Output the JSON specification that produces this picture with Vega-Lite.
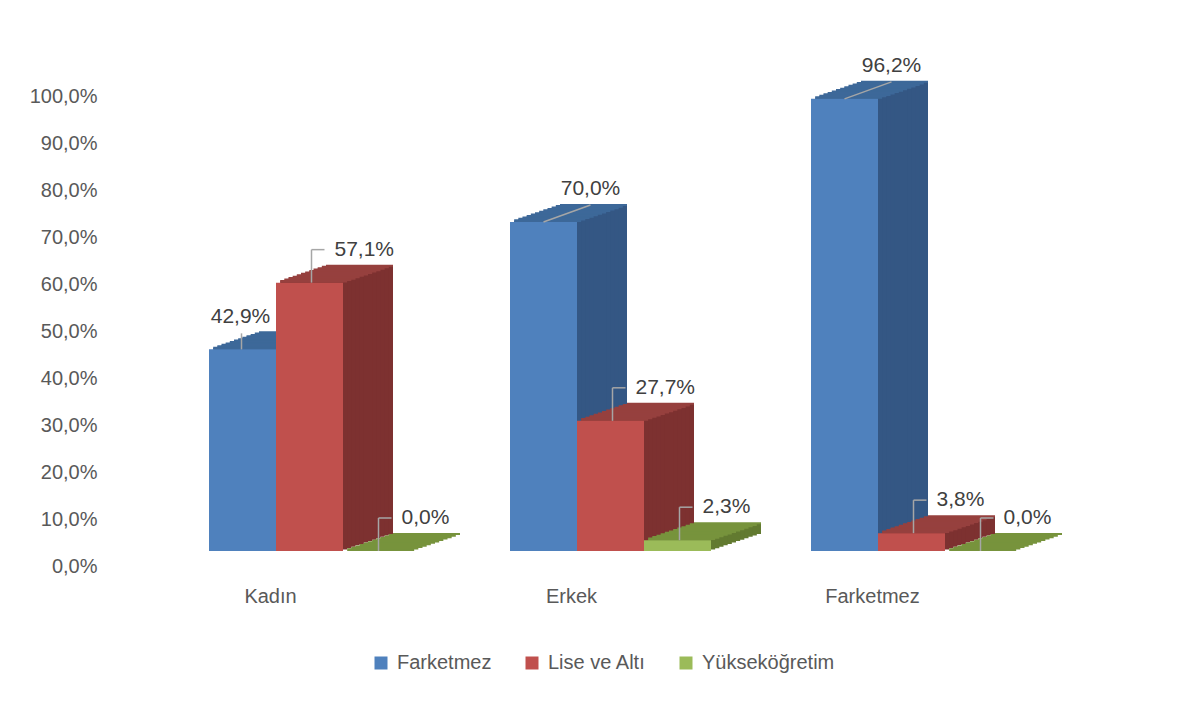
{
  "$schema": "https://vega.github.io/schema/vega-lite/v6.json",
  "autosize": {"type": "pad"},
  "padding": {"left": 29, "top": 54, "right": 5, "bottom": 5},
  "background": "#ffffff",
  "config": {
    "locale": {"number": {"decimal": ",", "thousands": ".", "grouping": [3], "currency": ["", " TL"]}},
    "view": {"stroke": null},
    "font": "Liberation Sans",
    "text": {"font": "Liberation Sans"},
    "tick": {"opacity": 1}
  },
  "data": {
    "values": [
      {"group": "Kadın", "series": "Farketmez", "value": 0.429},
      {"group": "Kadın", "series": "Lise ve Altı", "value": 0.571},
      {"group": "Kadın", "series": "Yükseköğretim", "value": 0.0},
      {"group": "Erkek", "series": "Farketmez", "value": 0.700},
      {"group": "Erkek", "series": "Lise ve Altı", "value": 0.277},
      {"group": "Erkek", "series": "Yükseköğretim", "value": 0.023},
      {"group": "Farketmez", "series": "Farketmez", "value": 0.962},
      {"group": "Farketmez", "series": "Lise ve Altı", "value": 0.038},
      {"group": "Farketmez", "series": "Yükseköğretim", "value": 0.0}
    ]
  },
  "facet": {"column": {"field": "group", "type": "nominal", "sort": ["Kadın", "Erkek", "Farketmez"], "header": null}},
  "spacing": 50,
  "spec": {
    "width": 201,
    "height": 470,
    "encoding": {
      "x": {"field": "series", "type": "nominal", "sort": ["Farketmez", "Lise ve Altı", "Yükseköğretim"], "axis": null, "scale": {"paddingInner": 0, "paddingOuter": 0}},
      "y": {"field": "value", "type": "quantitative", "scale": {"domain": [0, 1], "nice": false},
        "axis": {"values": [0, 0.1, 0.2, 0.3, 0.4, 0.5, 0.6, 0.7, 0.8, 0.9, 1], "format": ".1%", "title": null, "domain": false, "ticks": false, "tickSize": 0, "grid": false, "labelPadding": 112, "labelOffset": 15, "labelFontSize": 20, "labelColor": "#595959", "labelFont": "Liberation Sans"}}
    },
    "layer": [
      {"mark": {"type": "bar", "xOffset": 50, "x2Offset": 50, "yOffset": -17, "y2Offset": -17}, "encoding": {"color": {"condition": [{"test": "datum.series === 'Farketmez'", "value": "#345784"}, {"test": "datum.series === 'Lise ve Altı'", "value": "#7D3130"}], "value": "#627A30"}}},
      {"mark": {"type": "bar", "xOffset": 45.83, "x2Offset": 45.83, "yOffset": -15.58, "y2Offset": -15.58}, "encoding": {"color": {"condition": [{"test": "datum.series === 'Farketmez'", "value": "#345784"}, {"test": "datum.series === 'Lise ve Altı'", "value": "#7D3130"}], "value": "#627A30"}}},
      {"mark": {"type": "bar", "xOffset": 41.67, "x2Offset": 41.67, "yOffset": -14.17, "y2Offset": -14.17}, "encoding": {"color": {"condition": [{"test": "datum.series === 'Farketmez'", "value": "#345784"}, {"test": "datum.series === 'Lise ve Altı'", "value": "#7D3130"}], "value": "#627A30"}}},
      {"mark": {"type": "bar", "xOffset": 37.5, "x2Offset": 37.5, "yOffset": -12.75, "y2Offset": -12.75}, "encoding": {"color": {"condition": [{"test": "datum.series === 'Farketmez'", "value": "#345784"}, {"test": "datum.series === 'Lise ve Altı'", "value": "#7D3130"}], "value": "#627A30"}}},
      {"mark": {"type": "bar", "xOffset": 33.33, "x2Offset": 33.33, "yOffset": -11.33, "y2Offset": -11.33}, "encoding": {"color": {"condition": [{"test": "datum.series === 'Farketmez'", "value": "#345784"}, {"test": "datum.series === 'Lise ve Altı'", "value": "#7D3130"}], "value": "#627A30"}}},
      {"mark": {"type": "bar", "xOffset": 29.17, "x2Offset": 29.17, "yOffset": -9.92, "y2Offset": -9.92}, "encoding": {"color": {"condition": [{"test": "datum.series === 'Farketmez'", "value": "#345784"}, {"test": "datum.series === 'Lise ve Altı'", "value": "#7D3130"}], "value": "#627A30"}}},
      {"mark": {"type": "bar", "xOffset": 25, "x2Offset": 25, "yOffset": -8.5, "y2Offset": -8.5}, "encoding": {"color": {"condition": [{"test": "datum.series === 'Farketmez'", "value": "#345784"}, {"test": "datum.series === 'Lise ve Altı'", "value": "#7D3130"}], "value": "#627A30"}}},
      {"mark": {"type": "bar", "xOffset": 20.83, "x2Offset": 20.83, "yOffset": -7.08, "y2Offset": -7.08}, "encoding": {"color": {"condition": [{"test": "datum.series === 'Farketmez'", "value": "#345784"}, {"test": "datum.series === 'Lise ve Altı'", "value": "#7D3130"}], "value": "#627A30"}}},
      {"mark": {"type": "bar", "xOffset": 16.67, "x2Offset": 16.67, "yOffset": -5.67, "y2Offset": -5.67}, "encoding": {"color": {"condition": [{"test": "datum.series === 'Farketmez'", "value": "#345784"}, {"test": "datum.series === 'Lise ve Altı'", "value": "#7D3130"}], "value": "#627A30"}}},
      {"mark": {"type": "bar", "xOffset": 12.5, "x2Offset": 12.5, "yOffset": -4.25, "y2Offset": -4.25}, "encoding": {"color": {"condition": [{"test": "datum.series === 'Farketmez'", "value": "#345784"}, {"test": "datum.series === 'Lise ve Altı'", "value": "#7D3130"}], "value": "#627A30"}}},
      {"mark": {"type": "bar", "xOffset": 8.33, "x2Offset": 8.33, "yOffset": -2.83, "y2Offset": -2.83}, "encoding": {"color": {"condition": [{"test": "datum.series === 'Farketmez'", "value": "#345784"}, {"test": "datum.series === 'Lise ve Altı'", "value": "#7D3130"}], "value": "#627A30"}}},
      {"mark": {"type": "bar", "xOffset": 4.17, "x2Offset": 4.17, "yOffset": -1.42, "y2Offset": -1.42}, "encoding": {"color": {"condition": [{"test": "datum.series === 'Farketmez'", "value": "#345784"}, {"test": "datum.series === 'Lise ve Altı'", "value": "#7D3130"}], "value": "#627A30"}}},
      {"mark": {"type": "tick", "opacity": 1, "size": 67, "thickness": 2.6, "xOffset": 4.17, "yOffset": -1.42}, "encoding": {"color": {"condition": [{"test": "datum.series === 'Farketmez'", "value": "#3D6899"}, {"test": "datum.series === 'Lise ve Altı'", "value": "#96403E"}], "value": "#77933C"}}},
      {"mark": {"type": "tick", "opacity": 1, "size": 67, "thickness": 2.6, "xOffset": 8.33, "yOffset": -2.83}, "encoding": {"color": {"condition": [{"test": "datum.series === 'Farketmez'", "value": "#3D6899"}, {"test": "datum.series === 'Lise ve Altı'", "value": "#96403E"}], "value": "#77933C"}}},
      {"mark": {"type": "tick", "opacity": 1, "size": 67, "thickness": 2.6, "xOffset": 12.5, "yOffset": -4.25}, "encoding": {"color": {"condition": [{"test": "datum.series === 'Farketmez'", "value": "#3D6899"}, {"test": "datum.series === 'Lise ve Altı'", "value": "#96403E"}], "value": "#77933C"}}},
      {"mark": {"type": "tick", "opacity": 1, "size": 67, "thickness": 2.6, "xOffset": 16.67, "yOffset": -5.67}, "encoding": {"color": {"condition": [{"test": "datum.series === 'Farketmez'", "value": "#3D6899"}, {"test": "datum.series === 'Lise ve Altı'", "value": "#96403E"}], "value": "#77933C"}}},
      {"mark": {"type": "tick", "opacity": 1, "size": 67, "thickness": 2.6, "xOffset": 20.83, "yOffset": -7.08}, "encoding": {"color": {"condition": [{"test": "datum.series === 'Farketmez'", "value": "#3D6899"}, {"test": "datum.series === 'Lise ve Altı'", "value": "#96403E"}], "value": "#77933C"}}},
      {"mark": {"type": "tick", "opacity": 1, "size": 67, "thickness": 2.6, "xOffset": 25, "yOffset": -8.5}, "encoding": {"color": {"condition": [{"test": "datum.series === 'Farketmez'", "value": "#3D6899"}, {"test": "datum.series === 'Lise ve Altı'", "value": "#96403E"}], "value": "#77933C"}}},
      {"mark": {"type": "tick", "opacity": 1, "size": 67, "thickness": 2.6, "xOffset": 29.17, "yOffset": -9.92}, "encoding": {"color": {"condition": [{"test": "datum.series === 'Farketmez'", "value": "#3D6899"}, {"test": "datum.series === 'Lise ve Altı'", "value": "#96403E"}], "value": "#77933C"}}},
      {"mark": {"type": "tick", "opacity": 1, "size": 67, "thickness": 2.6, "xOffset": 33.33, "yOffset": -11.33}, "encoding": {"color": {"condition": [{"test": "datum.series === 'Farketmez'", "value": "#3D6899"}, {"test": "datum.series === 'Lise ve Altı'", "value": "#96403E"}], "value": "#77933C"}}},
      {"mark": {"type": "tick", "opacity": 1, "size": 67, "thickness": 2.6, "xOffset": 37.5, "yOffset": -12.75}, "encoding": {"color": {"condition": [{"test": "datum.series === 'Farketmez'", "value": "#3D6899"}, {"test": "datum.series === 'Lise ve Altı'", "value": "#96403E"}], "value": "#77933C"}}},
      {"mark": {"type": "tick", "opacity": 1, "size": 67, "thickness": 2.6, "xOffset": 41.67, "yOffset": -14.17}, "encoding": {"color": {"condition": [{"test": "datum.series === 'Farketmez'", "value": "#3D6899"}, {"test": "datum.series === 'Lise ve Altı'", "value": "#96403E"}], "value": "#77933C"}}},
      {"mark": {"type": "tick", "opacity": 1, "size": 67, "thickness": 2.6, "xOffset": 45.83, "yOffset": -15.58}, "encoding": {"color": {"condition": [{"test": "datum.series === 'Farketmez'", "value": "#3D6899"}, {"test": "datum.series === 'Lise ve Altı'", "value": "#96403E"}], "value": "#77933C"}}},
      {"mark": {"type": "tick", "opacity": 1, "size": 67, "thickness": 2, "xOffset": 50, "yOffset": -17}, "encoding": {"color": {"condition": [{"test": "datum.series === 'Farketmez'", "value": "#3D6899"}, {"test": "datum.series === 'Lise ve Altı'", "value": "#96403E"}], "value": "#77933C"}}},
      {"mark": {"type": "bar"}, "encoding": {"color": {"field": "series", "type": "nominal", "sort": ["Farketmez", "Lise ve Altı", "Yükseköğretim"], "scale": {"domain": ["Farketmez", "Lise ve Altı", "Yükseköğretim"], "range": ["#4F81BD", "#C0504D", "#9BBB59"]},
        "legend": {"orient": "none", "legendX": 162, "legendY": 572, "direction": "horizontal", "title": null, "symbolType": "square", "symbolSize": 169, "symbolStrokeWidth": 0, "symbolOpacity": 1, "labelFontSize": 20, "labelColor": "#595959", "labelFont": "Liberation Sans", "columnPadding": 30, "labelOffset": 6}}}},
      {"transform": [{"filter": "datum.series !== 'Farketmez'"}],
        "mark": {"type": "rule", "color": "#A6A6A6", "strokeWidth": 1.5, "xOffset": 2, "yOffset": 0, "y2Offset": -33},
        "encoding": {"y2": {"field": "value"}}},
      {"transform": [{"filter": "datum.series !== 'Farketmez'"}],
        "mark": {"type": "tick", "opacity": 1, "color": "#A6A6A6", "size": 13, "thickness": 1.5, "xOffset": 8.5, "yOffset": -33}},
      {"transform": [{"filter": "datum.series !== 'Farketmez'"}],
        "mark": {"type": "text", "align": "left", "baseline": "middle", "xOffset": 25, "yOffset": -33, "fontSize": 21, "color": "#404040", "font": "Liberation Sans"},
        "encoding": {"text": {"field": "value", "type": "quantitative", "format": ".1%"}}},
      {"transform": [{"filter": "datum.series === 'Farketmez' && datum.group !== 'Kadın'"}],
        "mark": {"type": "rule", "color": "#A6A6A6", "strokeWidth": 1.5, "xOffset": 0, "x2Offset": 47, "yOffset": 0, "y2Offset": -17},
        "encoding": {"x2": {"field": "series"}, "y2": {"field": "value"}}},
      {"transform": [{"filter": "datum.series === 'Farketmez' && datum.group !== 'Kadın'"}],
        "mark": {"type": "text", "align": "center", "baseline": "middle", "xOffset": 47, "yOffset": -33, "fontSize": 21, "color": "#404040", "font": "Liberation Sans"},
        "encoding": {"text": {"field": "value", "type": "quantitative", "format": ".1%"}}},
      {"transform": [{"filter": "datum.series === 'Farketmez' && datum.group === 'Kadın'"}],
        "mark": {"type": "rule", "color": "#A6A6A6", "strokeWidth": 1.5, "xOffset": -1, "yOffset": 0, "y2Offset": -16},
        "encoding": {"y2": {"field": "value"}}},
      {"transform": [{"filter": "datum.series === 'Farketmez' && datum.group === 'Kadın'"}],
        "mark": {"type": "text", "align": "center", "baseline": "middle", "xOffset": -2, "yOffset": -32, "fontSize": 21, "color": "#404040", "font": "Liberation Sans"},
        "encoding": {"text": {"field": "value", "type": "quantitative", "format": ".1%"}}},
      {"transform": [{"filter": "datum.series === 'Farketmez'"}],
        "mark": {"type": "text", "align": "center", "baseline": "middle", "xOffset": 28, "yOffset": 46, "fontSize": 20, "color": "#595959", "font": "Liberation Sans"},
        "encoding": {"y": {"datum": 0}, "text": {"field": "group", "type": "nominal"}}}
    ]
  }
}
